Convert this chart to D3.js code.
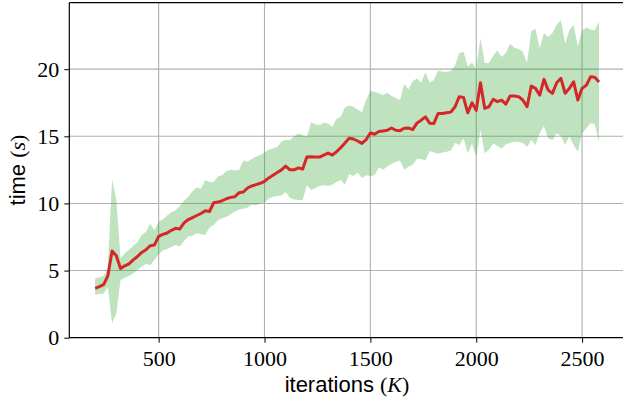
<!DOCTYPE html>
<html><head><meta charset="utf-8">
<script src="https://cdn.jsdelivr.net/npm/d3@7"></script>
<style>
html,body{margin:0;padding:0;background:#fff;}
svg{display:block;}
</style></head>
<body>
<svg id="chart" width="623" height="403"></svg>
<script>
const iterations = [
  200,220,240,260,280,300,320,340,360,380,
  400,420,440,460,480,500,520,540,560,580,
  600,620,640,660,680,700,720,740,760,780,
  800,820,840,860,880,900,920,940,960,980,
  1000,1020,1040,1060,1080,1100,1120,1140,1160,1180,
  1200,1220,1240,1260,1280,1300,1320,1340,1360,1380,
  1400,1420,1440,1460,1480,1500,1520,1540,1560,1580,
  1600,1620,1640,1660,1680,1700,1720,1740,1760,1780,
  1800,1820,1840,1860,1880,1900,1920,1940,1960,1980,
  2000,2020,2040,2060,2080,2100,2120,2140,2160,2180,
  2200,2220,2240,2260,2280,2300,2320,2340,2360,2380,
  2400,2420,2440,2460,2480,2500,2520,2540,2560,2580
];
const meanTime = [
  3.68,3.8,3.95,4.6,6.45,6.1,5.15,5.35,5.5,5.8,
  6.05,6.35,6.55,6.85,6.9,7.55,7.7,7.8,8.0,8.15,
  8.1,8.55,8.8,8.95,9.1,9.25,9.45,9.4,10.05,10.1,
  10.2,10.35,10.45,10.5,10.8,10.85,11.15,11.3,11.4,11.5,
  11.65,11.9,12.1,12.3,12.5,12.78,12.5,12.5,12.65,12.55,
  13.45,13.48,13.45,13.45,13.6,13.75,13.6,13.85,14.15,14.5,
  14.85,14.8,14.65,14.47,14.75,15.25,15.15,15.35,15.4,15.45,
  15.62,15.45,15.42,15.6,15.62,15.5,15.98,16.2,16.45,15.98,
  15.96,16.7,16.7,16.75,16.8,17.2,17.95,17.9,16.75,17.5,
  16.93,18.99,17.08,17.2,17.75,17.58,17.7,17.4,18.0,18.0,
  17.95,17.7,17.2,18.74,18.57,18.07,19.24,18.44,18.2,18.99,
  19.32,18.2,18.57,19.06,17.7,18.57,18.8,19.43,19.4,19.04
];
const upperTime = [
  4.4,4.5,4.6,5.2,11.8,10.3,5.9,6.3,6.55,6.85,
  7.1,7.65,7.9,8.5,8.0,8.64,8.8,9.1,9.35,9.5,
  9.8,10.2,10.5,10.9,11.2,11.1,11.75,11.6,11.6,12.0,
  12.1,12.4,12.5,12.45,12.5,13.2,13.1,13.3,13.5,13.6,
  13.8,14.0,14.1,14.2,14.6,14.75,14.7,15.0,15.2,15.1,
  14.95,16.05,15.9,15.85,16.0,15.95,15.7,16.3,16.45,17.15,
  17.3,17.2,17.0,16.8,17.7,18.4,18.3,18.2,18.05,18.25,
  18.0,17.85,17.7,18.9,18.5,19.1,19.3,19.0,19.75,19.0,
  19.2,19.9,19.8,19.8,19.85,20.3,21.2,21.3,20.2,20.5,
  20.0,22.3,20.45,20.45,21.0,21.4,20.9,21.2,21.9,21.6,
  21.5,21.3,20.45,22.85,23.0,21.55,22.7,22.4,22.7,23.3,
  23.66,21.9,22.9,23.3,21.7,22.9,23.1,22.96,22.9,23.55
];
const lowerTime = [
  3.2,3.25,3.3,3.8,1.07,1.8,4.3,4.45,4.6,4.8,
  5.04,5.3,5.5,5.4,5.8,6.2,6.5,6.6,6.75,6.9,
  6.8,7.2,7.55,7.6,7.8,7.7,7.65,8.2,8.4,8.75,
  8.9,9.0,9.2,9.4,9.55,9.6,9.7,9.9,9.85,10.0,
  10.05,10.35,10.5,10.55,10.6,10.85,10.4,10.3,10.25,10.25,
  11.35,11.0,11.15,11.3,11.35,11.3,11.4,11.6,11.75,11.4,
  12.2,12.05,12.3,11.9,12.1,12.05,12.1,12.7,12.5,12.75,
  12.95,13.1,13.2,12.5,12.75,12.9,13.3,13.3,13.2,13.9,
  13.8,13.7,13.8,13.85,13.95,14.5,14.35,14.85,13.73,14.47,
  13.48,15.47,13.73,14.0,14.47,14.27,14.1,14.4,14.5,14.6,
  14.6,14.5,14.22,14.72,14.35,15.22,15.76,14.85,14.72,15.22,
  15.0,14.35,15.0,14.35,13.85,15.22,15.6,15.97,15.9,14.6
];
const xTicks = [500, 1000, 1500, 2000, 2500];
const yTicks = [0, 5, 10, 15, 20];

const data = iterations.map((x, i) => ({x, m: meanTime[i], lo: lowerTime[i], hi: upperTime[i]}));

const svg = d3.select("#chart");
const L = 69.3, T = 2.7, B = 337.7, R = 624;
const x = d3.scaleLinear().domain([78, 2698]).range([L, R]);
const y = d3.scaleLinear().domain([0, 24.95]).range([B, T]);

svg.append("defs").append("clipPath").attr("id","clip")
  .append("rect").attr("x", L).attr("y", T).attr("width", R - L).attr("height", B - T);

// grid
const grid = svg.append("g").attr("clip-path","url(#clip)");
grid.selectAll(".gx").data(xTicks).join("line")
  .attr("x1", d => x(d)).attr("x2", d => x(d)).attr("y1", T).attr("y2", B)
  .attr("stroke", "#b0b0b0").attr("stroke-width", 1.1);
grid.selectAll(".gy").data(yTicks).join("line")
  .attr("y1", d => y(d)).attr("y2", d => y(d)).attr("x1", L).attr("x2", R)
  .attr("stroke", "#b0b0b0").attr("stroke-width", 1.1);

const plot = svg.append("g").attr("clip-path","url(#clip)");
plot.append("path").datum(data)
  .attr("d", d3.area().x(d => x(d.x)).y0(d => y(d.lo)).y1(d => y(d.hi)))
  .attr("fill", "#2ca02c").attr("fill-opacity", 0.3);
plot.append("path").datum(data)
  .attr("d", d3.line().x(d => x(d.x)).y(d => y(d.m)))
  .attr("fill", "none").attr("stroke", "#d62728").attr("stroke-width", 3)
  .attr("stroke-linejoin", "round");

// axes
const xAxis = d3.axisBottom(x).tickValues(xTicks).tickSize(5).tickPadding(4).tickFormat(d3.format("d"));
const yAxis = d3.axisLeft(y).tickValues(yTicks).tickSize(5).tickPadding(5).tickFormat(d3.format("d"));
const gx = svg.append("g").attr("transform", `translate(0,${B})`).call(xAxis);
const gy = svg.append("g").attr("transform", `translate(${L},0)`).call(yAxis);
[gx, gy].forEach(g => {
  g.select(".domain").remove();
  g.selectAll(".tick line").attr("stroke", "#000").attr("stroke-width", 1);
  g.selectAll(".tick text").attr("fill", "#000")
    .style("font-family", "'Liberation Serif', 'DejaVu Serif', serif").style("font-size", "22px");
});
gx.selectAll(".tick text").attr("dy", "0.88em");

// spines
svg.append("line").attr("x1", L).attr("x2", L).attr("y1", T).attr("y2", B).attr("stroke", "#000").attr("stroke-width", 1.2);
svg.append("line").attr("x1", L).attr("x2", R).attr("y1", B).attr("y2", B).attr("stroke", "#000").attr("stroke-width", 1.2);
svg.append("line").attr("x1", L).attr("x2", R).attr("y1", T).attr("y2", T).attr("stroke", "#000").attr("stroke-width", 1.2);

// labels
const xl = svg.append("text").attr("x", 347).attr("y", 392).attr("text-anchor", "middle")
  .style("font-family", "'Liberation Sans', Arial, sans-serif").style("font-size", "22px").attr("fill", "#000");
xl.append("tspan").text("iterations ");
xl.append("tspan").text("(").style("font-family", "'Liberation Serif', serif");
xl.append("tspan").text("K").style("font-family", "'Liberation Serif', serif").style("font-style", "italic");
xl.append("tspan").text(")").style("font-family", "'Liberation Serif', serif");

const yl = svg.append("text").attr("transform", "translate(25,170) rotate(-90)").attr("text-anchor", "middle")
  .style("font-family", "'Liberation Sans', Arial, sans-serif").style("font-size", "22px").attr("fill", "#000");
yl.append("tspan").text("time ");
yl.append("tspan").text("(").style("font-family", "'Liberation Serif', serif");
yl.append("tspan").text("s").style("font-family", "'Liberation Serif', serif").style("font-style", "italic");
yl.append("tspan").text(")").style("font-family", "'Liberation Serif', serif");
</script>
</body></html>
